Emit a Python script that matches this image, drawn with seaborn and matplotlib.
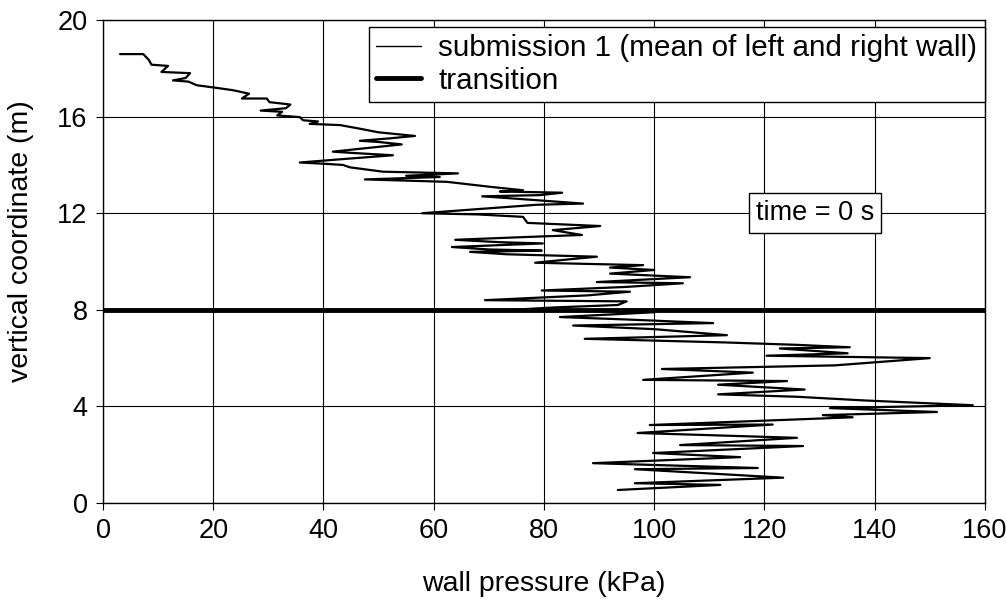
import matplotlib
matplotlib.use("Agg")
import matplotlib.pyplot as plt
import seaborn as sns
import pandas as pd
from matplotlib.lines import Line2D

# wall pressure (kPa) read along the profile, top to bottom
pressure = [3.1, 7.3, 8.3, 8.8, 11.8, 10.6, 15.8, 15.0, 12.7, 15.5, 17.0, 20.3, 23.4, 24.5,
            26.5, 25.2, 29.7, 30.2, 34.0, 33.2, 28.6, 32.5, 31.6, 35.7, 36.3, 39.0, 37.5,
            43.0, 46.6, 50.0, 56.6, 52.0, 46.6, 50.0, 54.2, 48.0, 41.7, 45.0, 52.6, 44.0,
            35.7, 40.0, 43.5, 44.8, 50.8, 64.4, 55.0, 61.1, 47.5, 62.4, 70.0, 76.2, 72.0,
            83.3, 79.3, 68.8, 75.0, 87.1, 78.7, 57.9, 68.0, 76.2, 77.0, 90.2, 81.6, 86.9,
            75.0, 63.9, 72.0, 79.8, 63.3, 70.0, 79.6, 66.6, 73.3, 89.6, 85.0, 78.4, 98.0,
            92.0, 100.0, 92.0, 106.5, 89.6, 105.2, 95.0, 79.6, 95.6, 88.0, 69.3, 95.0, 93.4,
            82.0, 74.2, 90.0, 100.0, 82.9, 95.0, 110.7, 85.3, 100.0, 113.2, 87.4, 112.8,
            125.9, 135.5, 122.8, 135.1, 120.4, 150.0, 132.8, 101.4, 117.9, 98.0, 124.1,
            111.6, 127.3, 111.6, 125.9, 137.9, 157.8, 131.9, 151.3, 130.6, 136.0, 99.2,
            121.5, 97.0, 125.9, 104.7, 127.0, 99.8, 115.6, 88.9, 118.8, 96.5, 123.4, 96.5,
            112.0, 93.4]
# vertical coordinate (m)
elevation = [18.59, 18.59, 18.35, 18.15, 18.1, 17.85, 17.8, 17.6, 17.5, 17.45, 17.3, 17.2, 17.1, 17.05,
             16.95, 16.75, 16.75, 16.6, 16.5, 16.35, 16.25, 16.2, 16.05, 15.98, 15.85, 15.8, 15.7,
             15.65, 15.5, 15.35, 15.2, 15.1, 15.0, 14.95, 14.85, 14.7, 14.55, 14.5, 14.4, 14.25,
             14.1, 14.05, 14.0, 13.9, 13.72, 13.65, 13.55, 13.5, 13.4, 13.3, 13.1, 12.95, 12.9,
             12.85, 12.75, 12.7, 12.6, 12.4, 12.35, 12.0, 11.95, 11.85, 11.6, 11.47, 11.3, 11.1,
             11.0, 10.9, 10.8, 10.75, 10.6, 10.5, 10.45, 10.4, 10.3, 10.2, 10.1, 9.95, 9.85,
             9.75, 9.65, 9.5, 9.35, 9.15, 9.1, 8.95, 8.8, 8.75, 8.6, 8.4, 8.35, 8.2,
             8.1, 8.0, 7.95, 7.9, 7.7, 7.6, 7.45, 7.35, 7.2, 6.95, 6.8, 6.65,
             6.55, 6.45, 6.4, 6.2, 6.1, 6.0, 5.7, 5.55, 5.4, 5.1, 5.05,
             4.9, 4.7, 4.5, 4.4, 4.25, 4.05, 3.93, 3.77, 3.64, 3.55, 3.23,
             3.25, 2.9, 2.7, 2.4, 2.36, 2.07, 1.9, 1.65, 1.45, 1.4, 1.05, 0.82,
             0.75, 0.54]

transition_x = [0, 160]
transition_y = [8, 8]

x_ticks = [0, 20, 40, 60, 80, 100, 120, 140, 160]
y_ticks = [0, 4, 8, 12, 16, 20]

sns.set_style("white")
plt.rcParams['font.family'] = ['Liberation Sans', 'DejaVu Sans']
plt.rcParams['text.color'] = 'black'
plt.rcParams['axes.labelcolor'] = 'black'
plt.rcParams['xtick.color'] = 'black'
plt.rcParams['ytick.color'] = 'black'

fig = plt.figure(figsize=(10.06, 6.07), dpi=100)
ax = fig.add_axes([0.1024, 0.1713, 0.979 - 0.1024, 0.967 - 0.1713])

df = pd.DataFrame({"pressure": pressure, "elevation": elevation})
sns.lineplot(data=df, x="pressure", y="elevation", sort=False, estimator=None,
             color="black", lw=1.6, ax=ax, zorder=3)
sns.lineplot(x=transition_x, y=transition_y, sort=False, estimator=None,
             color="black", lw=3.5, ax=ax, zorder=4)

ax.set_xlim(0, 160)
ax.set_ylim(0, 20)
ax.set_xticks(x_ticks)
ax.set_yticks(y_ticks)
ax.grid(True, color="black", lw=0.8)
for s in ax.spines.values():
    s.set_color("black")
    s.set_linewidth(1.0)
ax.tick_params(axis="both", which="both", direction="out", length=5, width=0.8,
               color="black", labelcolor="black", labelsize=19.5, pad=6,
               bottom=True, left=True)
ax.set_xlabel("wall pressure (kPa)", fontsize=20.5, color="black")
ax.set_ylabel("vertical coordinate (m)", fontsize=20.5, color="black")
ax.xaxis.set_label_coords(0.5, -0.14)
ax.yaxis.set_label_coords(-0.078, 0.542)

handles = [Line2D([], [], color="black", lw=1.0),
           Line2D([], [], color="black", lw=3.5)]
leg = ax.legend(handles, ["submission 1 (mean of left and right wall)", "transition"],
                loc="upper right", bbox_to_anchor=(1.0, 0.986), borderaxespad=0,
                fontsize=21.3, frameon=True, fancybox=False, edgecolor="black",
                framealpha=1, handlelength=1.5, handletextpad=0.6, borderpad=0.25,
                labelspacing=0.15)
leg.get_frame().set_linewidth(1.0)
for t in leg.get_texts():
    t.set_color("black")

ax.text(129.2, 12.0, "time = 0 s", fontsize=19.5, ha="center", va="center", color="black",
        bbox=dict(boxstyle="square,pad=0.25", fc="white", ec="black", lw=1.0), zorder=5)

fig.savefig("out.png", dpi=100)
